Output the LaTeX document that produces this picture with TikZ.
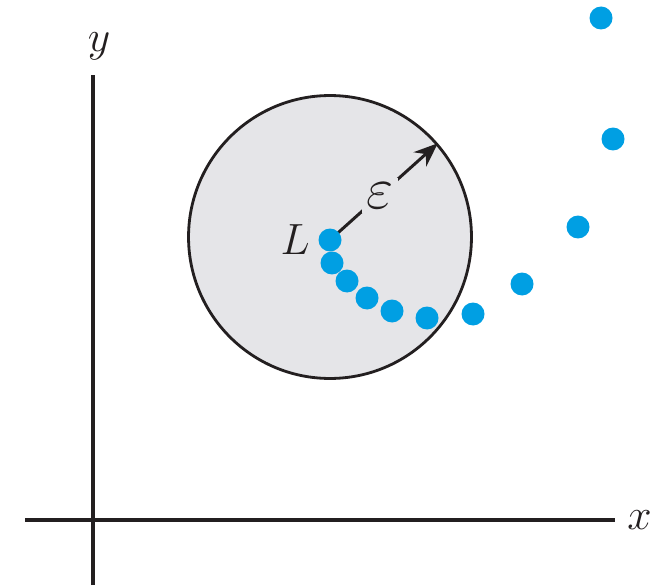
\documentclass[tikz,border=0pt]{standalone}
\usepackage{amsmath,amssymb}
\usepackage{graphicx}
\usepackage{tikz}
\usetikzlibrary{arrows.meta,positioning}
\definecolor{cInk}{HTML}{231F20}
\definecolor{cDot}{HTML}{009FE3}
\definecolor{cDisk}{HTML}{E5E5E8}
\tikzset{
  axis/.style={line width=2.3pt, cInk},
  nbhd/.style={circle, draw=cInk, line width=1.6pt, fill=cDisk,
               minimum size=5.66cm, inner sep=0pt},
  seqpt/.style={circle, fill=cDot, minimum size=0.46cm, inner sep=0pt},
  arr/.style={-{Stealth[length=4.8mm, width=3.8mm]}, line width=1.7pt, cInk},
  lbl/.style={font=\fontsize{24}{28}\selectfont, text=cInk, inner sep=0pt}
}

\begin{document}
\begin{tikzpicture}[x=0.02cm, y=-0.02cm]
\useasboundingbox (0,0) rectangle (671,587);
% axes
\coordinate (xl) at (25,520);
\coordinate (xr) at (615,520);
\coordinate (yb) at (93,585);
\coordinate (yt) at (93,75);
\draw[axis] (xl) -- (xr);
\draw[axis] (yb) -- (yt);
\node[lbl, right=2.4mm of xr] (xlab) {$x$};
\node[lbl, above=3mm of yt, xshift=1.2mm] (ylab) {$y$};
% epsilon neighbourhood of the limit
\node[nbhd] (disk) at (330,237) {};
\coordinate (lim) at (330,240);
\draw[arr] (lim) -- (disk.41.5)
  node[lbl, pos=0.46, fill=cDisk, inner sep=2.5pt] (eps) {\scalebox{1.35}{$\varepsilon$}};
% terms of the sequence
\foreach \px/\py [count=\i] in {330/240, 332/263, 347/281, 367/298, 392/311, 427/318,
                                473/314, 522/284, 578/227, 613/139, 601/18}
  \node[seqpt] (d\i) at (\px,\py) {};
\node[lbl, left=1.6mm of d1] (llab) {$L$};
\end{tikzpicture}
\end{document}
